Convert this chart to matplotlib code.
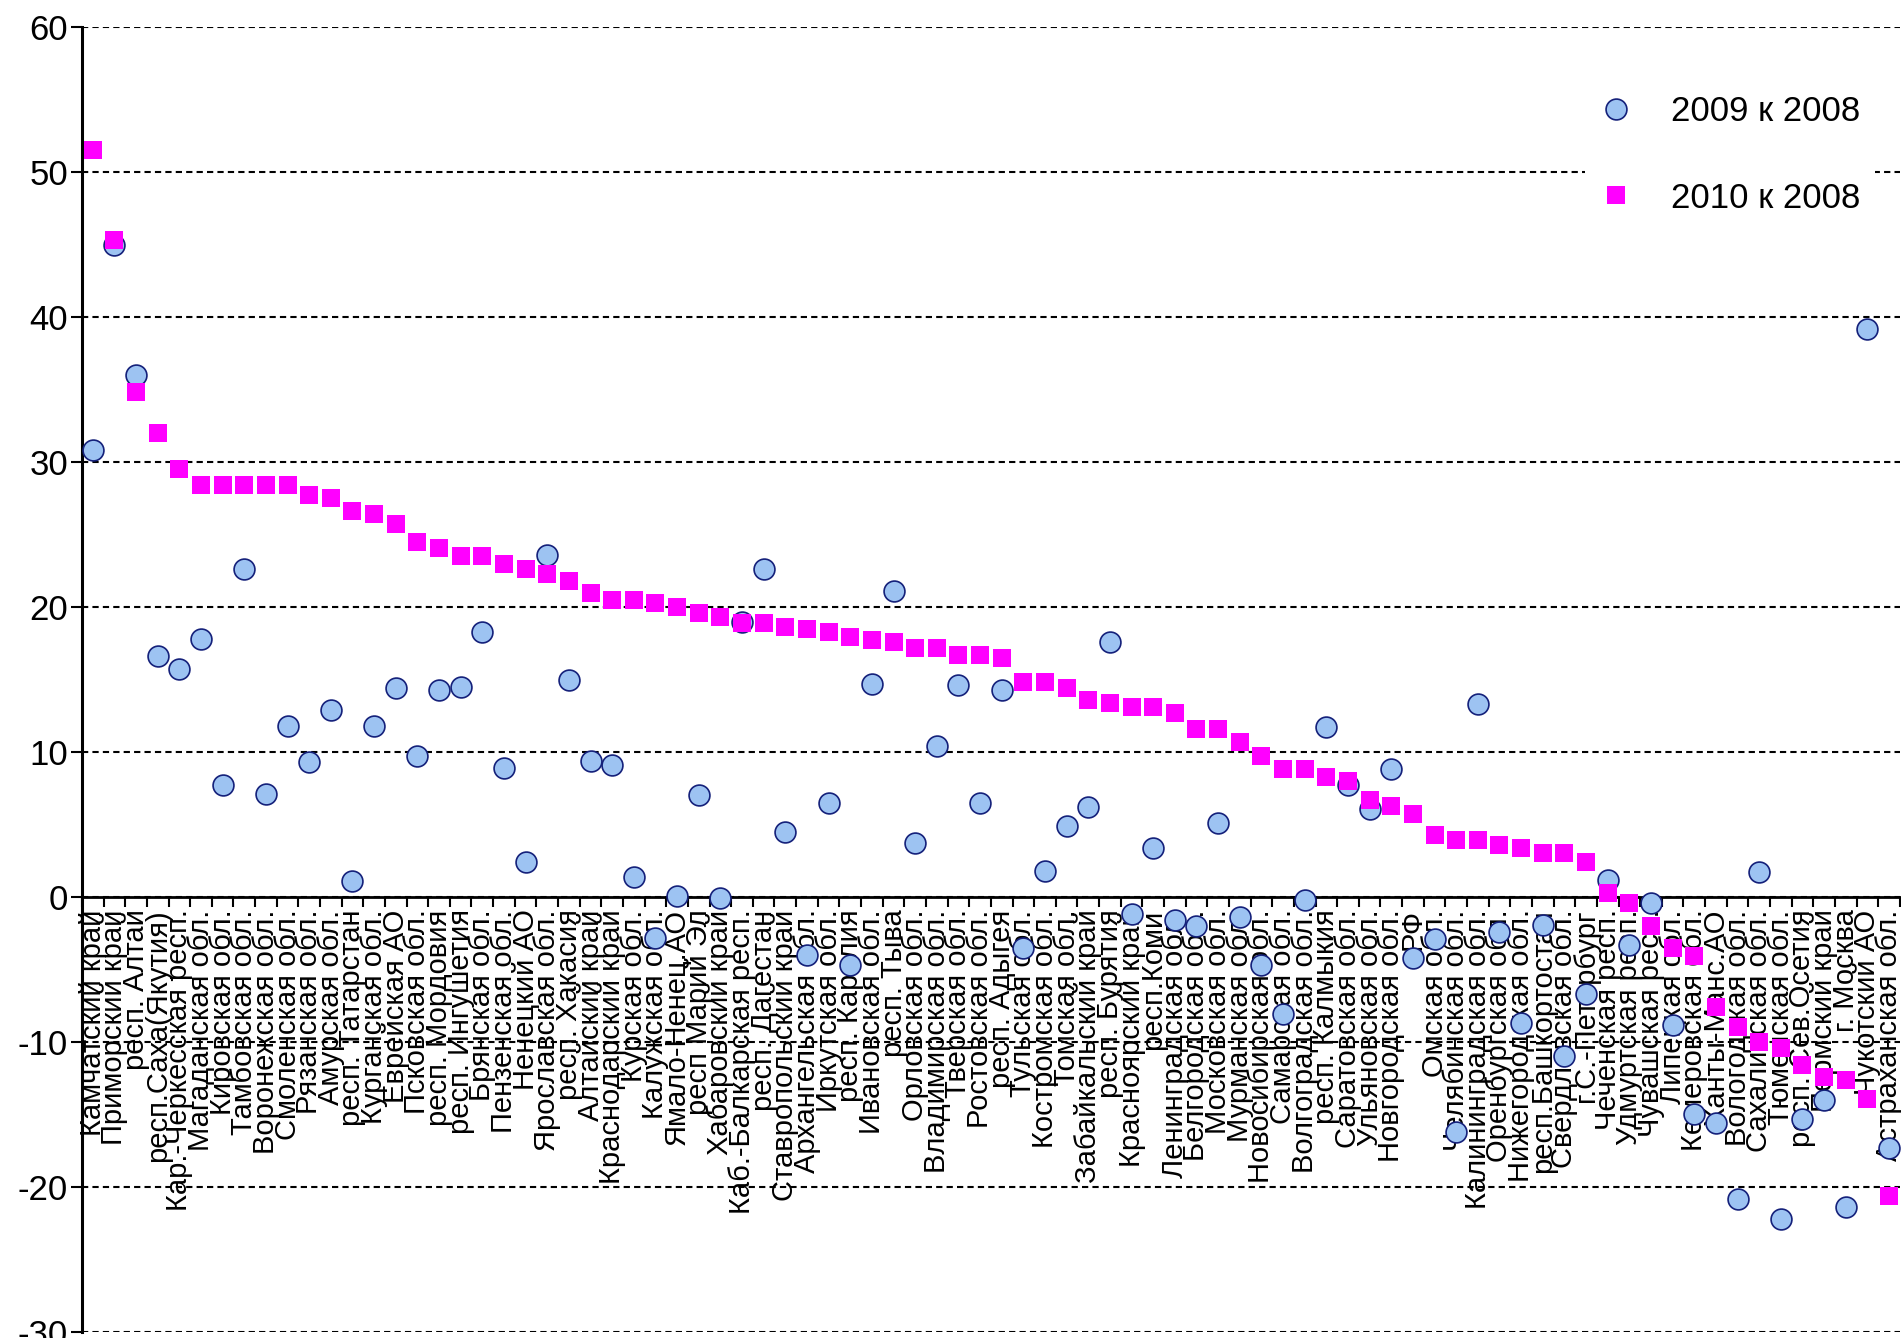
'''
Regional change relative to 2008: 2009 (circles) and 2010 (squares)
'''
import matplotlib
matplotlib.use('Agg')
import matplotlib.pyplot as plt
import numpy as np

# Regions along the x axis, in the order of the source chart
regions = [
    "Камчатский край", "Приморский край", "респ. Алтай", "респ.Саха(Якутия)",
    "Кар.-Черкесская респ.", "Магаданская обл.", "Кировская обл.", "Тамбовская обл.",
    "Воронежская обл.", "Смоленская обл.", "Рязанская обл.", "Амурская обл.",
    "респ. Татарстан", "Курганская обл.", "Еврейская АО", "Псковская обл.",
    "респ. Мордовия", "респ. Ингушетия", "Брянская обл.", "Пензенская обл.",
    "Ненецкий АО", "Ярославская обл.", "респ. Хакасия", "Алтайский край",
    "Краснодарский край", "Курская обл.", "Калужская обл.", "Ямало-Ненец.АО",
    "респ Марий Эл", "Хабаровский край", "Каб.-Балкарская респ.", "респ. Дагестан",
    "Ставропольский край", "Архангельская обл.", "Иркутская обл.", "респ. Карелия",
    "Ивановская обл.", "респ. Тыва", "Орловская обл.", "Владимирская обл.",
    "Тверская обл.", "Ростовская обл.", "респ. Адыгея", "Тульская обл.",
    "Костромская обл.", "Томская обл.", "Забайкальский край", "респ. Бурятия",
    "Красноярский край", "респ.Коми", "Ленинградская обл.", "Белгородская обл.",
    "Московская обл.", "Мурманская обл.", "Новосибирская обл.", "Самарская обл.",
    "Волгоградская обл.", "респ. Калмыкия", "Саратовская обл.", "Ульяновская обл.",
    "Новгородская обл.", "РФ", "Омская обл.", "Челябинская обл.",
    "Калининградская обл.", "Оренбургская обл.", "Нижегородская обл.", "респ.Башкортостан",
    "Свердловская обл.", "г.С.-Петербург", "Чеченская респ.", "Удмуртская респ.",
    "Чувашская респ.", "Липецкая обл.", "Кемеровская обл.", "Ханты-Манс.АО",
    "Вологодская обл.", "Сахалинская обл.", "Тюменская обл.", "респ. Сев.Осетия",
    "Пермский край", "г. Москва", "Чукотский АО", "Астраханская обл.",
]

# 2009 vs 2008 (blue circles)
change_2009 = [
    30.8, 45.0, 36.0, 16.6, 15.7, 17.8, 7.7, 22.6, 7.1, 11.8,
    9.3, 12.9, 1.1, 11.8, 14.4, 9.7, 14.3, 14.5, 18.3, 8.9,
    2.4, 23.6, 15.0, 9.4, 9.1, 1.4, -2.8, 0.1, 7.0, -0.1,
    19.0, 22.6, 4.5, -4.0, 6.5, -4.7, 14.7, 21.1, 3.7, 10.4,
    14.6, 6.5, 14.3, -3.5, 1.8, 4.9, 6.2, 17.6, -1.2, 3.4,
    -1.6, -2.0, 5.1, -1.4, -4.7, -8.1, -0.2, 11.7, 7.7, 6.1,
    8.8, -4.2, -2.9, -16.2, 13.3, -2.4, -8.7, -1.9, -11.0, -6.7,
    1.2, -3.3, -0.4, -8.8, -15.0, -15.6, -20.8, 1.7, -22.2, -15.3,
    -14.0, -21.4, 39.2, -17.3,
]

# 2010 vs 2008 (pink squares)
change_2010 = [
    51.5, 45.3, 34.8, 32.0, 29.5, 28.4, 28.4, 28.4, 28.4, 28.4,
    27.7, 27.5, 26.6, 26.4, 25.7, 24.5, 24.1, 23.5, 23.5, 23.0,
    22.6, 22.3, 21.8, 21.0, 20.5, 20.5, 20.3, 20.0, 19.6, 19.3,
    18.9, 18.9, 18.6, 18.5, 18.3, 17.9, 17.7, 17.6, 17.2, 17.2,
    16.7, 16.7, 16.5, 14.8, 14.8, 14.4, 13.6, 13.4, 13.1, 13.1,
    12.7, 11.6, 11.6, 10.7, 9.7, 8.8, 8.8, 8.3, 8.0, 6.7,
    6.3, 5.7, 4.3, 3.9, 3.9, 3.6, 3.4, 3.0, 3.0, 2.4,
    0.3, -0.4, -2.0, -3.5, -4.1, -7.6, -9.0, -10.0, -10.4, -11.6,
    -12.4, -12.6, -13.9, -20.6,
]

y_ticks = [-30, -20, -10, 0, 10, 20, 30, 40, 50, 60]
legend_labels = ["2009 к 2008", "2010 к 2008"]


def plot_figs():
    """
    Draw both series on one axes and save to out.png
    :return: nothing
    """
    plt.rcParams['font.family'] = ['Liberation Sans', 'DejaVu Sans']
    fig = plt.figure(figsize=(19.01, 13.38), dpi=100)
    ax = fig.add_axes([0.0431, 0.0045, 0.9563, 0.9753])

    x = np.arange(len(regions))

    # blue circles first, pink squares on top
    ax.plot(x, change_2009, linestyle='none', marker='o', markersize=15,
            markerfacecolor='#9dc3f2', markeredgecolor='#14207a',
            markeredgewidth=1.2, label=legend_labels[0], zorder=3, clip_on=False)
    ax.plot(x, change_2010, linestyle='none', marker='s', markersize=13.5,
            markerfacecolor='#ff00ff', markeredgewidth=0,
            label=legend_labels[1], zorder=4, clip_on=False)

    ax.set_xlim(-0.5, len(regions) - 0.5)
    ax.set_ylim(-30, 60)

    # dashed horizontal grid, axis line through zero
    ax.set_axisbelow(True)
    ax.yaxis.grid(True, color='black', linewidth=1.5, linestyle=(0, (3.0, 2.0)))
    ax.xaxis.grid(False)
    ax.spines['top'].set_visible(False)
    ax.spines['right'].set_visible(False)
    ax.spines['bottom'].set_position(('data', 0))
    ax.spines['bottom'].set_linewidth(2)
    ax.spines['left'].set_linewidth(2.2)

    # y ticks
    ax.set_yticks(y_ticks)
    ax.set_yticklabels([str(v) for v in y_ticks])
    ax.tick_params(axis='y', direction='out', length=8, width=1.5, pad=2,
                   labelsize=25, colors='black')

    # x: tick marks between categories, names centred on categories
    ax.set_xticks(np.arange(-0.5, len(regions), 1.0))
    ax.set_xticklabels([])
    ax.set_xticks(x, minor=True)
    ax.set_xticklabels(regions, minor=True, rotation=90, fontsize=21)
    ax.tick_params(axis='x', which='major', direction='out', length=7, width=1.5)
    ax.tick_params(axis='x', which='minor', length=0, pad=9)

    ax.legend(loc='upper left', bbox_to_anchor=(0.817, 0.972), fontsize=25,
              frameon=True, facecolor='white', edgecolor='none', framealpha=1,
              labelspacing=1.55, handletextpad=1.1, handlelength=1.0,
              borderpad=0.4)

    fig.savefig('out.png', dpi=100)


def main():
    plot_figs()


if __name__ == '__main__':
    main()
